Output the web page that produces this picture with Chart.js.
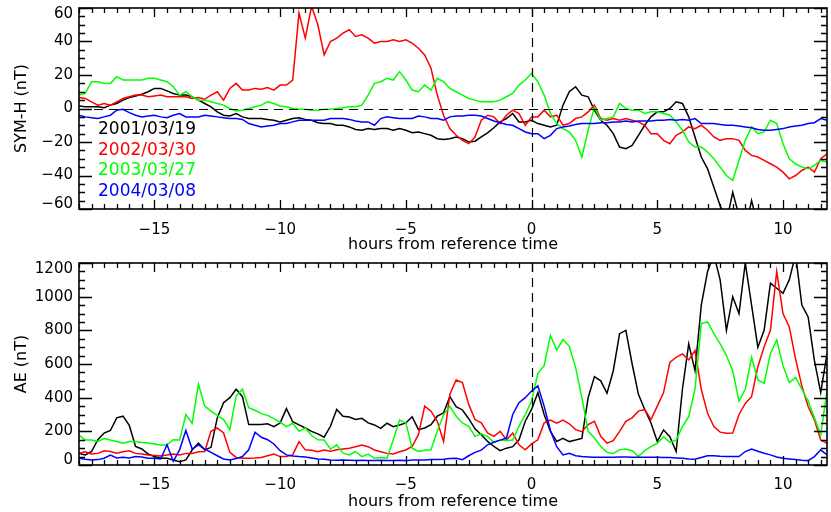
<!DOCTYPE html>
<html>
<head>
<meta charset="utf-8">
<title>SYM-H and AE</title>
<script src="https://cdn.jsdelivr.net/npm/chart.js@4.4.1/dist/chart.umd.min.js"></script>
<style>
  html, body { margin: 0; padding: 0; background: #fff; }
  #wrap { position: relative; width: 831px; height: 512px; overflow: hidden; background: #fff; }
  canvas { position: absolute; left: 0; }
  #ae-chart { top: 250px; }
  #sym-chart { top: 0; }
</style>
</head>
<body>
<div id="wrap">
  <canvas id="ae-chart" width="831" height="262"></canvas>
  <canvas id="sym-chart" width="831" height="256"></canvas>
</div>
<script>
// Storm comparison: SYM-H and AE against hours from reference time

// ============================================================================
// Data
// ============================================================================

const eventLabels = ['2001/03/19', '2002/03/30', '2003/03/27', '2004/03/08'];
const eventColors = ['#000000', '#ff0000', '#00ff00', '#0000ff'];

const hourTicks = [-15, -10, -5, 0, 5, 10];
const symTicks = [-60, -40, -20, 0, 20, 40, 60];
const aeTicks = [0, 200, 400, 600, 800, 1000, 1200];

const hours = [
  -18, -17.75, -17.5, -17.25, -17, -16.75, -16.5, -16.25, -16, -15.75,
  -15.5, -15.25, -15, -14.75, -14.5, -14.25, -14, -13.75, -13.5, -13.25,
  -13, -12.75, -12.5, -12.25, -12, -11.75, -11.5, -11.25, -11, -10.75,
  -10.5, -10.25, -10, -9.75, -9.5, -9.25, -9, -8.75, -8.5, -8.25,
  -8, -7.75, -7.5, -7.25, -7, -6.75, -6.5, -6.25, -6, -5.75,
  -5.5, -5.25, -5, -4.75, -4.5, -4.25, -4, -3.75, -3.5, -3.25,
  -3, -2.75, -2.5, -2.25, -2, -1.75, -1.5, -1.25, -1, -0.75,
  -0.5, -0.25, 0, 0.25, 0.5, 0.75, 1, 1.25, 1.5, 1.75,
  2, 2.25, 2.5, 2.75, 3, 3.25, 3.5, 3.75, 4, 4.25,
  4.5, 4.75, 5, 5.25, 5.5, 5.75, 6, 6.25, 6.5, 6.75,
  7, 7.25, 7.5, 7.75, 8, 8.25, 8.5, 8.75, 9, 9.25,
  9.5, 9.75, 10, 10.25, 10.5, 10.75, 11, 11.25, 11.5, 11.75
];

// SYM-H (nT)
const symBlack = [
  1.5, 1, 1, 1, 0.5, 2, 3, 5, 6.5, 7.5,
  8.5, 10, 12, 12, 10.5, 9, 8, 8, 7, 5,
  3, 1, -2, -4, -4.5, -3, -5, -6, -6, -6,
  -6.5, -7, -8, -7, -6, -5.5, -6.5, -7, -8.5, -9,
  -9, -10, -10, -11, -12.5, -13, -12, -12.5, -12, -12,
  -13, -12, -13, -14.5, -14, -15, -16, -18, -18.5, -18,
  -17, -18, -20, -19.5, -17, -14.5, -11.5, -8, -6, -3,
  -8, -8, -7, -9, -10, -11, -10, 2, 10, 13,
  8, 7, -1, -7, -10, -15, -23, -24, -22, -16,
  -10, -5, -2, -2, 0, 4, 3, -5, -17, -29,
  -36, -47, -58, -68, -50, -64, -72, -55, -70, -75,
  -78, -80, -80, -80, -80, -80, -80, -80, -80, -80
];
const symRed = [
  6.5, 6, 4, 2, 3, 2, 4, 6, 7, 8,
  8, 7, 7.5, 8, 7, 7, 7, 7, 6, 6.5,
  5.5, 8, 10, 5, 12, 15, 11, 11, 12, 11.5,
  12.5, 11, 14, 14, 17, 57, 42, 61, 50, 32,
  40, 42, 45, 47, 43, 44, 42, 39, 40, 40,
  41, 40, 41, 39, 36, 32, 24, 8, -4, -12,
  -16, -19, -21, -17, -7, -4, -5, -9, -4, -1,
  -3, -10, -5, -5, -1, -5, -4, -10, -9, -6,
  -5, -2, 2, -6, -7, -6, -7, -6, -7, -8,
  -10, -15, -15, -19, -21, -16, -14, -11, -12, -10,
  -13, -17, -19, -18, -18, -19, -25, -28, -29, -31,
  -33, -35, -38, -42, -40, -37, -35, -38, -30, -27
];
const symGreen = [
  8, 9, 16, 16, 15, 15, 19, 17, 17, 17,
  17, 18, 18, 17, 16, 13, 8, 10, 7, 5,
  5, 4, 3, 2, 0, -1.5, -1, 0, 1, 2,
  4, 3, 1.5, 1, 0, -0.5, -0.5, -1, -1, -0.5,
  -0.5, 0, 0.5, 1, 1, 2, 8, 15, 16, 18,
  17, 22, 17, 11, 10, 14, 11, 18, 16, 12,
  10, 8, 6, 5, 4, 4, 4, 5, 7, 9,
  14, 17, 21, 16, 8, -3, -9, -12, -14, -19,
  -29, -13, 1, -7, -6, -5, 3, 0, -1, -1,
  -3, -2, -2, -3, -4, -8, -13, -20, -23, -23,
  -26, -30, -35, -40, -43, -31, -19, -11, -15, -14,
  -7, -9, -21, -30, -33, -35, -36, -34, -31, -32
];
const symBlue = [
  -4, -5, -5.5, -6, -5, -4, -1, -0.5, -2.5, -4,
  -5, -4.5, -4, -5, -5.5, -4, -3, -5, -5, -5,
  -4, -4.5, -5, -5.5, -6, -6, -6.5, -9, -10, -11,
  -10.5, -10, -9, -9, -8, -7, -7, -7, -7, -7,
  -6, -6, -6, -6.5, -7.5, -8, -8, -10, -6, -5,
  -5.5, -6, -6, -6, -4.5, -5, -6, -6, -7, -5,
  -4.5, -4.5, -4, -4, -4.5, -6, -7.5, -8.5, -9.5, -10,
  -12, -14, -15, -15, -18, -16, -12, -11, -10.5, -9.5,
  -9, -9, -9, -8.5, -8.5, -8, -8, -7.5, -8, -7.5,
  -7.5, -7.5, -7, -7, -6.5, -7, -6.5, -7, -6, -9,
  -9, -9, -9.5, -10, -10, -10.5, -11, -11.5, -12.5, -13,
  -13, -12.5, -12, -11, -10.5, -10, -9, -8.5, -6, -7
];

// AE (nT)
const aeBlack = [
  69, 60, 80, 150, 190, 205, 280, 290, 235, 110,
  95, 65, 50, 40, 40, 30, 20, 30, 89, 130,
  90, 105, 280, 370, 400, 450, 406, 240, 240, 240,
  245, 228, 250, 335, 257, 238, 220, 200, 185, 165,
  230, 330, 290, 285, 270, 277, 250, 238, 218, 248,
  228, 238, 250, 287, 210, 220, 240, 290, 310, 406,
  347, 327, 275, 215, 180, 140, 110, 85, 100, 109,
  150, 260, 330, 430, 300, 200, 140, 158, 139, 148,
  158, 400, 525, 500, 426, 560, 780, 800, 600, 420,
  330, 250, 140, 208, 168, 80, 450, 720, 560, 950,
  1150, 1250, 1100, 800, 1000, 900, 1200, 950, 700, 800,
  1080, 1050, 1020, 1100, 1250, 950, 880, 620, 430, 660
];
const aeRed = [
  69, 79, 65, 69, 85, 80, 70, 79, 85, 69,
  65, 59, 57, 53, 59, 65, 59, 69, 68, 79,
  80, 200, 220, 190, 75, 45, 40, 40, 42, 45,
  55, 65, 50, 50, 60, 139, 90, 88, 79, 89,
  82, 90, 95, 99, 109, 119, 109, 89, 79, 69,
  65, 79, 89, 110, 180, 350, 320, 260, 140, 420,
  505, 490, 360, 270, 250, 190, 170, 200, 150, 190,
  120, 90, 125, 150, 250, 267, 248, 267, 245, 210,
  198, 240, 260, 170, 130, 145, 200, 260, 280, 320,
  330, 270, 350, 430, 610, 640, 660, 624, 680, 450,
  307, 228, 195, 188, 190, 300, 366, 406, 584, 703,
  800, 1150, 900, 820, 630, 470, 347, 267, 148, 129
];
const aeGreen = [
  178, 148, 148, 139, 158, 148, 139, 129, 139, 139,
  133, 130, 125, 119, 119, 150, 148, 300, 248, 480,
  350, 320, 295, 270, 210, 410, 450, 340, 325, 305,
  295, 275, 255, 228, 248, 200, 220, 175, 150, 148,
  95, 120, 70, 60, 80, 50, 65, 40, 45, 40,
  150, 267, 250, 100, 80, 88, 90, 200, 300, 347,
  290, 250, 230, 170, 185, 170, 135, 148, 145, 148,
  230, 300, 380, 545, 590, 770, 683, 745, 705, 580,
  400, 200, 160, 110, 75, 69, 90, 95, 85, 50,
  85, 109, 129, 168, 135, 148, 228, 287, 450, 840,
  850, 780, 720, 650, 560, 380, 450, 640, 505, 485,
  663, 743, 590, 490, 520, 450, 380, 280, 180, 440
];
const aeBlue = [
  40, 34, 30, 32, 40, 59, 42, 46, 42, 50,
  48, 40, 40, 36, 120, 22, 90, 205, 95, 120,
  95, 75, 55, 36, 30, 38, 50, 90, 195, 165,
  150, 125, 85, 60, 53, 50, 48, 42, 36, 34,
  30, 28, 30, 28, 26, 28, 26, 26, 28, 26,
  26, 28, 26, 30, 30, 30, 32, 33, 34, 38,
  40, 32, 55, 75, 88, 120, 135, 148, 160, 300,
  370, 400, 440, 470, 350, 205, 109, 60, 69, 55,
  50, 48, 46, 46, 46, 46, 48, 48, 46, 46,
  46, 46, 46, 44, 44, 42, 40, 36, 34, 45,
  55, 55, 52, 50, 50, 50, 80, 95, 82, 70,
  60, 48, 40, 36, 32, 28, 26, 50, 90, 60
];

const FONT = '"DejaVu Sans", "Liberation Sans", sans-serif';

// ============================================================================
// Plugin: IDL-style frame (inward ticks on all sides, dashed zero lines, labels)
// ============================================================================

function isMultiple(v, step) {
  const r = v / step;
  return Math.abs(r - Math.round(r)) < 1e-6;
}

function formatTick(v) {
  return v < 0 ? '\u2212' + Math.abs(v) : String(v);
}

const idlFrame = {
  id: 'idlFrame',
  afterDatasetsDraw(chart, args, opts) {
    const { ctx, chartArea: a } = chart;
    const x = chart.scales.x;
    const y = chart.scales.y;
    ctx.save();
    ctx.strokeStyle = '#000';

    // dashed reference lines
    ctx.lineWidth = 1.2;
    ctx.setLineDash([9, 6]);
    ctx.beginPath();
    const x0 = Math.round(x.getPixelForValue(0)) + 0.5;
    ctx.moveTo(x0, a.top);
    ctx.lineTo(x0, a.bottom);
    if (opts.zeroLine) {
      const y0 = Math.round(y.getPixelForValue(0)) + 0.5;
      ctx.moveTo(a.left, y0);
      ctx.lineTo(a.right, y0);
    }
    ctx.stroke();
    ctx.setLineDash([]);

    // box
    ctx.lineWidth = 1.6;
    ctx.strokeRect(a.left, a.top, a.right - a.left, a.bottom - a.top);

    // ticks
    ctx.lineWidth = 1.3;
    ctx.beginPath();
    const xStart = Math.ceil(x.min / opts.xMinor) * opts.xMinor;
    for (let v = xStart; v <= x.max + 1e-9; v += opts.xMinor) {
      const px = Math.round(x.getPixelForValue(v)) + 0.5;
      const len = isMultiple(v, opts.xMajor) ? 9 : 5;
      ctx.moveTo(px, a.bottom);
      ctx.lineTo(px, a.bottom - len);
      ctx.moveTo(px, a.top);
      ctx.lineTo(px, a.top + len);
    }
    const yStart = Math.ceil(y.min / opts.yMinor) * opts.yMinor;
    for (let v = yStart; v <= y.max + 1e-9; v += opts.yMinor) {
      const py = Math.round(y.getPixelForValue(v)) + 0.5;
      const len = isMultiple(v, opts.yMajor) ? 13 : 6;
      ctx.moveTo(a.left, py);
      ctx.lineTo(a.left + len, py);
      ctx.moveTo(a.right, py);
      ctx.lineTo(a.right - len, py);
    }
    ctx.stroke();

    // y tick labels, end labels pulled inside the axis range like IDL does
    ctx.font = '15px ' + FONT;
    ctx.fillStyle = '#000';
    ctx.textAlign = 'right';
    ctx.textBaseline = 'middle';
    y.ticks.forEach((t) => {
      const py = Math.min(Math.max(y.getPixelForValue(t.value), a.top + 6), a.bottom - 5);
      ctx.fillText(formatTick(t.value), a.left - 6, py);
    });

    // event labels in the upper panel
    if (opts.legend) {
      ctx.font = '17px ' + FONT;
      ctx.textAlign = 'left';
      chart.data.datasets.forEach((ds, i) => {
        ctx.fillStyle = ds.borderColor;
        ctx.fillText(ds.label, a.left + 19, a.top + 122 + i * 20.5);
      });
    }
    ctx.restore();
  }
};

// ============================================================================
// Chart builder
// ============================================================================

function buildDatasets(seriesList) {
  // draw blue on top, black underneath
  return seriesList.map((vals, i) => ({
    label: eventLabels[i],
    data: hours.map((h, k) => ({ x: h, y: vals[k] })),
    borderColor: eventColors[i],
    backgroundColor: eventColors[i],
    borderWidth: 1.5,
    pointRadius: 0,
    tension: 0,
    order: seriesList.length - i
  }));
}

function makePanel(canvasId, seriesList, cfg) {
  const canvas = document.getElementById(canvasId);
  return new Chart(canvas, {
    type: 'line',
    data: { datasets: buildDatasets(seriesList) },
    plugins: [idlFrame],
    options: {
      responsive: false,
      animation: false,
      events: [],
      layout: { padding: { top: cfg.padTop, right: 4, left: 0, bottom: 0 } },
      plugins: {
        legend: { display: false },
        tooltip: { enabled: false },
        idlFrame: cfg.frame
      },
      scales: {
        x: {
          type: 'linear',
          min: -18,
          max: 11.75,
          grid: { display: false, drawTicks: false },
          border: { display: false },
          afterBuildTicks: (s) => { s.ticks = hourTicks.map((v) => ({ value: v })); },
          afterFit: (s) => {
            s.height = cfg.xHeight;
            s.paddingLeft = 0;
            s.paddingRight = 0;
          },
          ticks: {
            padding: cfg.xTickPad,
            font: { family: FONT, size: 15 },
            color: '#000',
            maxRotation: 0,
            autoSkip: false,
            callback: formatTick
          },
          title: {
            display: true,
            text: 'hours from reference time',
            color: '#000',
            font: { family: FONT, size: 16, lineHeight: 1 },
            padding: { top: 0, bottom: cfg.xTitlePad }
          }
        },
        y: {
          type: 'linear',
          min: cfg.yMin,
          max: cfg.yMax,
          grid: { display: false, drawTicks: false },
          border: { display: false },
          afterBuildTicks: (s) => { s.ticks = cfg.yTicks.map((v) => ({ value: v })); },
          afterFit: (s) => {
            s.width = 79;
            s.paddingTop = 0;
            s.paddingBottom = 0;
          },
          ticks: { display: false },
          title: {
            display: true,
            text: cfg.yTitle,
            color: '#000',
            font: { family: FONT, size: 16, lineHeight: 1 },
            padding: { top: 14, bottom: 0 }
          }
        }
      }
    }
  });
}

// ============================================================================
// Initialization
// ============================================================================

makePanel('sym-chart', [symBlack, symRed, symGreen, symBlue], {
  padTop: 8,
  xHeight: 47,
  xTickPad: 12,
  xTitlePad: 3,
  yMin: -60,
  yMax: 60,
  yTicks: symTicks,
  yTitle: 'SYM-H (nT)',
  frame: { xMinor: 0.5, xMajor: 5, yMinor: 5, yMajor: 20, zeroLine: true, legend: true }
});

makePanel('ae-chart', [aeBlack, aeRed, aeGreen, aeBlue], {
  padTop: 13,
  xHeight: 47,
  xTickPad: 11,
  xTitlePad: 2,
  yMin: 0,
  yMax: 1200,
  yTicks: aeTicks,
  yTitle: 'AE (nT)',
  frame: { xMinor: 0.5, xMajor: 5, yMinor: 50, yMajor: 200, zeroLine: false, legend: false }
});
</script>
</body>
</html>
